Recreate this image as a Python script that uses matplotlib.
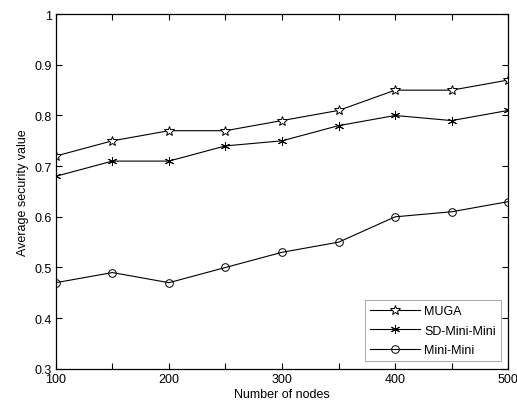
import matplotlib
matplotlib.use("Agg")
import matplotlib.pyplot as plt

nodes = [100, 150, 200, 250, 300, 350, 400, 450, 500]
muga = [0.72, 0.75, 0.77, 0.77, 0.79, 0.81, 0.85, 0.85, 0.87]
sd_mini_mini = [0.68, 0.71, 0.71, 0.74, 0.75, 0.78, 0.80, 0.79, 0.81]
mini_mini = [0.47, 0.49, 0.47, 0.50, 0.53, 0.55, 0.60, 0.61, 0.63]

plt.rcParams["font.family"] = ["Liberation Sans", "DejaVu Sans"]
plt.rcParams["font.size"] = 9

fig = plt.figure(figsize=(5.17, 4.10), dpi=100)
ax = fig.add_axes([0.108, 0.098, 0.875, 0.865])

ax.plot(nodes, muga, color="black", lw=0.8, marker="*", ms=7,
        mfc="white", mec="black", mew=0.7, label="MUGA")
ax.plot(nodes, sd_mini_mini, color="black", lw=0.8, marker=(6, 2, 0), ms=6.5,
        mew=0.7, label="SD-Mini-Mini")
ax.plot(nodes, mini_mini, color="black", lw=0.8, marker="o", ms=5.5,
        mfc="none", mec="black", mew=0.7, label="Mini-Mini")

ax.set_xlim(100, 500)
ax.set_ylim(0.3, 1.0)
ax.set_xticks(range(100, 501, 50))
ax.set_xticklabels([str(v) if v % 100 == 0 else "" for v in range(100, 501, 50)])
ax.set_yticks([0.3, 0.4, 0.5, 0.6, 0.7, 0.8, 0.9, 1.0])
ax.set_yticklabels(["0.3", "0.4", "0.5", "0.6", "0.7", "0.8", "0.9", "1"])
ax.tick_params(direction="in", top=True, right=True, length=4, width=0.8, pad=3)
for s in ax.spines.values():
    s.set_linewidth(0.9)

ax.set_xlabel("Number of nodes", labelpad=2)
ax.set_ylabel("Average security value", labelpad=4)

leg = ax.legend(loc="lower right", fancybox=False, edgecolor="#a8a8a8",
                framealpha=1, handlelength=4.0, borderaxespad=0.6,
                labelspacing=0.6, handletextpad=0.3)
leg.get_frame().set_linewidth(0.7)

fig.savefig("out.png", dpi=100)
